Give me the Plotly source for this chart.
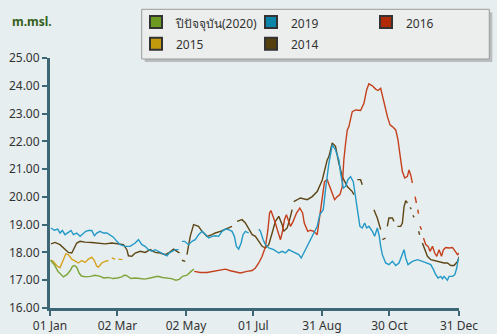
import plotly.graph_objects as go
import pandas as pd

# ---------------- data (day-of-year offsets from 01 Jan, water level m.msl.) ----------------
green_days = [0.5, 2, 4, 7, 10, 12, 15, 18, 20, 22,
              24, 26, 28, 32, 36, 40, 44, 48, 52, 56,
              60, 64, 66, 68, 72, 76, 80, 84, 88, 92,
              96, 100, 104, 108, 112, 115, 118, 122, 125, 128]
green_vals = [17.72, 17.65, 17.55, 17.32, 17.18, 17.12, 17.20, 17.35, 17.50, 17.53,
              17.45, 17.25, 17.15, 17.12, 17.14, 17.18, 17.15, 17.08, 17.10, 17.06,
              17.08, 17.12, 17.18, 17.17, 17.06, 17.08, 17.06, 17.04, 17.07, 17.10,
              17.14, 17.10, 17.08, 17.06, 17.00, 17.03, 17.14, 17.18, 17.30, 17.40]

blue_days = [0.9, 3.8, 6.9, 8.9, 11.0, 13.4, 16.3, 18.7, 20.8, 23.8,
             26.8, 29.7, 31.8, 34.2, 37.2, 39.5, 41.6, 44.6, 47.5, 50.6,
             53.5, 56.4, 59.5, 62.4, 66.9, 71.3, 75.8, 78.7, 81.8, 84.7,
             87.7, 90.7, 93.6, 98.1, 101.0, 104.1, 106.1, 108.5, 111.5, 114.4, None,
             117.4, 119.8, 123.3, 126.4, 129.3, 132.2, 135.3, 138.2, 141.2, 144.2,
             147.1, 150.1, 153.1, 156.1, 159.0, 162.0, 164.1, 165.9, 167.9, 170.1,
             171.8, 173.9, 176.8, None,
             185.8, 187.3, 189.7, 191.7, 194.7, 199.1, 203.6, 206.6, 209.6, 212.5,
             215.5, 218.5, 221.4, 223.6, 225.9, 228.9, 231.8, 234.8, 237.8, 240.1,
             243.2, 245.2, 248.2, 251.2, 254.1, 257.1, 258.6, 261.0, 263.1, 265.1,
             267.5, 269.9, 272.0, 274.0, 275.8, 277.9, 280.0, 281.8, 283.8, 286.9,
             288.9, 291.3, 293.1, 294.3, 295.8, 298.7, 301.7, 304.7, 307.7, 310.6,
             313.6, 315.1, 316.6, 318.6, 322.5, 327.0, 331.5, 335.9, 338.9, 341.3,
             343.3, 345.4, 347.8, 349.3, 350.7, 353.7, 355.2, 358.2, 360.3, 362.0,
             363.2, 364.3]
blue_vals = [18.88, 18.80, 18.84, 18.70, 18.79, 18.64, 18.72, 18.79, 18.64, 18.70,
             18.58, 18.70, 18.76, 18.79, 18.79, 18.60, 18.70, 18.76, 18.70, 18.70,
             18.64, 18.55, 18.40, 18.28, 18.22, 18.22, 18.34, 18.46, 18.28, 18.22,
             18.10, 18.04, 18.10, 18.00, 17.92, 17.88, 17.98, 18.04, 18.10, 18.10, None,
             18.40, 18.40, 18.28, 18.40, 18.46, 18.64, 18.76, 18.64, 18.52, 18.58,
             18.60, 18.58, 18.76, 18.84, 18.82, 18.76, 18.58, 18.22, 18.12, 18.34,
             18.64, 18.76, 18.70, None,
             18.84, 18.76, 18.46, 18.28, 18.16, 18.10, 17.98, 18.04, 17.98, 18.10,
             18.04, 17.98, 17.92, 17.80, 17.98, 18.22, 18.46, 18.70, 18.94, 19.36,
             19.54, 20.26, 21.21, 21.87, 21.69, 21.33, 20.86, 20.32, 20.38, 20.62,
             20.73, 20.55, 20.01, 19.54, 18.94, 18.88, 19.06, 18.88, 18.94, 18.76,
             18.58, 18.88, 18.58, 18.22, 17.92, 17.62, 17.56, 17.68, 17.53, 17.62,
             17.92, 18.10, 17.80, 17.56, 17.68, 17.74, 17.68, 17.62, 17.56, 17.38,
             17.20, 17.08, 17.14, 17.05, 17.14, 17.00, 17.14, 17.14, 17.20, 17.44,
             17.74, 17.80]

red_days = [128.4, 133.8, 139.7, 145.6, 151.6, 156.1, 160.5, 166.5, 169.4, 175.4,
            179.9, 182.8, 185.8, 188.8, 191.7, 193.9, 195.4, 196.6, 198.6, 200.6,
            202.7, 205.1, 206.6, 208.7, 210.4, 212.5, 214.0, 216.4, 219.4, 222.3,
            224.8, 226.3, 229.4, 231.8, 234.8, 237.8, 239.3, 240.8, 242.3, 244.3,
            246.7, 249.1, 251.2, 253.3, 255.7, 258.0, 260.1, 261.5, 263.1, 264.6,
            266.0, 269.0, 272.0, 276.4, 279.4, 281.8, 283.8, 286.9, 289.8, 291.9,
            294.3, 297.2, 300.3, 302.6, 304.7, 307.7, 309.7, 311.5, 313.6, 315.7,
            318.1, 319.5, 321.0, 322.5, None,
            324.9, 326.1, None, 327.3, 327.9, None, 329.3, 330.6, None,
            332.4, 334.4, 336.5, 338.2, 340.4, 342.4, 344.2, 346.3, 348.4, 350.2,
            352.2, 355.2, 358.2, 360.3, 362.7, 364.3]
red_vals = [17.32, 17.28, 17.28, 17.32, 17.38, 17.40, 17.34, 17.30, 17.26, 17.32,
            17.35, 17.44, 17.62, 17.86, 18.20, 18.80, 19.42, 19.51, 19.30, 19.06,
            18.76, 18.46, 18.70, 19.18, 19.36, 19.06, 18.94, 19.12, 19.42, 19.60,
            19.42, 19.06, 18.76, 18.80, 18.76, 18.64, 19.06, 19.54, 20.08, 20.55,
            20.62, 20.37, 20.08, 19.90, 20.01, 20.08, 20.37, 21.33, 21.94, 22.41,
            22.53, 23.07, 23.13, 23.11, 23.37, 23.85, 24.07, 24.00, 23.88, 23.83,
            23.91, 23.37, 22.89, 22.59, 22.53, 22.41, 22.05, 21.51, 20.91, 20.68,
            20.74, 20.97, 20.79, 20.50, None,
            20.01, 19.78, None, 19.54, 19.40, None, 18.94, 18.82, None,
            18.52, 18.28, 18.22, 18.04, 18.22, 17.98, 17.86, 18.10, 17.86, 18.10,
            18.18, 18.16, 18.18, 18.04, 17.92, 17.98]

gold_days = [0.5, 2.9, 6.0, 8.9, 11.9, 14.0, 16.3, 19.4, 22.9, 25.2,
             28.3, 31.2, 34.2, 37.2, 39.5, 41.6, 43.1, 46.1, 49.0, 52.0, None,
             55.0, 58.0, None, 60.9, 64.5]
gold_vals = [17.72, 17.68, 17.52, 17.45, 17.74, 17.95, 17.92, 17.76, 17.68, 17.62,
             17.71, 17.64, 17.76, 17.83, 17.71, 17.50, 17.47, 17.62, 17.68, 17.71, None,
             17.80, 17.76, None, 17.76, 17.74]

brown_days = [0.9, 4.5, 8.9, 13.4, 16.3, 19.4, 21.7, 23.8, 26.8, 31.2,
              37.2, 43.1, 49.0, 55.0, 60.9, 65.4, 68.4, 69.8, 72.9, 75.8,
              80.3, 84.7, 89.2, 93.6, 98.1, 102.5, 105.5, 110.0, 113.0, 115.3, None,
              117.4, 120.4, None,
              121.9, 124.8, 127.8, 132.2, 135.3, 139.7, 144.2, 147.1, 151.6, 157.6, 162.0, None,
              166.5, 170.9, 173.9, 176.8, 179.9, 182.8, 185.8, 188.8, 191.7, 194.7,
              197.7, 200.6, 203.6, 206.6, 208.0, 211.1, 214.0, 215.5, None,
              216.9, 222.9, 228.9, 233.4, 237.8, 242.3, 246.7, 248.2, 251.2, 254.1,
              257.1, 260.1, 264.6, 269.0, 270.5, None,
              273.5, 276.4, 277.9, None, 288.3, 291.3, 294.3, None, 295.8, 298.7, None,
              300.2, 301.6, 304.7, 306.1, None, 309.2, 312.1, 313.6, 315.1, 316.6, 318.1, None,
              320.5, 321.5, None, 323.0, 324.0, None, 328.0, 329.0, None,
              331.4, 333.5, 335.9, 338.9, 344.8, 350.7, 353.7, 356.7, 359.6, 362.7, 364.3]
brown_vals = [18.31, 18.36, 18.28, 18.10, 18.00, 17.98, 18.16, 18.34, 18.40, 18.37,
              18.36, 18.34, 18.31, 18.34, 18.30, 18.28, 18.10, 17.88, 17.86, 17.98,
              18.04, 18.00, 18.10, 18.00, 17.98, 17.92, 17.98, 18.12, 18.04, 17.98, None,
              17.72, 17.68, None,
              17.92, 18.58, 19.00, 18.94, 18.76, 18.58, 18.64, 18.70, 18.76, 18.88, 18.94, None,
              19.12, 19.18, 19.06, 18.88, 18.64, 18.58, 18.40, 18.22, 18.16, 18.28,
              18.70, 19.12, 19.30, 19.00, 18.76, 18.88, 19.30, 19.54, None,
              19.83, 19.96, 19.90, 20.01, 20.19, 20.61, 21.33, 21.45, 21.94, 21.82,
              21.21, 20.73, 20.37, 20.19, 20.08, None,
              20.62, 20.62, 20.44, None, 19.54, 19.24, 18.82, None, 18.46, 18.52, None,
              18.94, 19.24, 19.24, 19.12, None, 18.94, 18.94, 19.06, 19.65, 19.86, 19.78, None,
              19.62, 19.56, None, 19.34, 19.26, None, 18.76, 18.64, None,
              18.34, 18.10, 17.86, 17.74, 17.68, 17.62, 17.62, 17.53, 17.53, 17.68, 17.85]

series_names = ["ปีปัจจุบัน(2020)", "2019", "2016", "2015", "2014"]
line_colors = ["#7da53a", "#2299c6", "#c4401c", "#d6a21e", "#5e4614"]
legend_colors = ["#6b9a1f", "#0a84a8", "#b02a08", "#c39a0c", "#54400d"]

tick_dates = ["2019-01-01", "2019-03-02", "2019-05-02", "2019-07-01",
              "2019-08-31", "2019-10-30", "2019-12-31"]
tick_text = ["01 Jan", "02 Mar", "02 May", "01 Jul", "31 Aug", "30 Oct", "31 Dec"]
y_ticks = [16, 17, 18, 19, 20, 21, 22, 23, 24, 25]

# ---------------- layout constants (pixels) ----------------
W, H = 497, 334
ML, MR, MT, MB = 50, 38, 58, 26
PW, PH = W - ML - MR, H - MT - MB


def px_x(px):
    return (px - ML) / PW


def px_y(py):
    return (H - MB - py) / PH


start = pd.Timestamp("2019-01-01")


def to_dates(days):
    return [None if d is None else start + pd.to_timedelta(d, unit="D") for d in days]


all_days = [green_days, blue_days, red_days, gold_days, brown_days]
all_vals = [green_vals, blue_vals, red_vals, gold_vals, brown_vals]

fig = go.Figure()
order = [4, 3, 2, 1, 0]
for i in order:
    assert len(all_days[i]) == len(all_vals[i]), (i, len(all_days[i]), len(all_vals[i]))
    fig.add_trace(go.Scatter(
        x=to_dates(all_days[i]), y=all_vals[i], mode="lines",
        line=dict(color=line_colors[i], width=1.4),
        connectgaps=False, showlegend=False, hoverinfo="skip"))

for i, name in enumerate(series_names):
    fig.add_trace(go.Scatter(
        x=[None], y=[None], mode="markers",
        name='<span style="font-size:12px">' + name + '</span>',
        marker=dict(symbol="square", size=11, color=legend_colors[i],
                    line=dict(color="#333333", width=1))))

axis_col = "#3d6676"
bg = "#e7eef0"
font_family = "Noto Sans, DejaVu Sans, sans-serif"

box_l, box_t, box_r, box_b = 141.7, 9.3, 489.3, 59.0

fig.update_layout(
    width=W, height=H,
    margin=dict(l=ML, r=MR, t=MT, b=MB, autoexpand=False),
    paper_bgcolor=bg, plot_bgcolor=bg,
    font=dict(family=font_family, size=12, color="#333333"),
    showlegend=True,
    legend=dict(
        orientation="h", x=px_x(136), y=px_y(6), xanchor="left", yanchor="top",
        bgcolor="rgba(0,0,0,0)", borderwidth=0,
        entrywidth=70, font=dict(size=14.5, color="#333333"),
        itemsizing="constant"),
    xaxis=dict(
        type="date", range=["2019-01-01", "2019-12-31"],
        tickvals=tick_dates, ticktext=tick_text, automargin=False,
        showline=True, linecolor=axis_col, linewidth=3,
        ticks="outside", ticklen=5, tickwidth=2, tickcolor=axis_col,
        showgrid=False, zeroline=False,
        tickfont=dict(size=12, color="#333333")),
    yaxis=dict(
        range=[16, 25], tickvals=y_ticks, tickformat=".2f", automargin=False,
        showline=True, linecolor=axis_col, linewidth=3,
        ticks="outside", ticklen=5, tickwidth=2, tickcolor=axis_col,
        showgrid=False, zeroline=False,
        tickfont=dict(size=12, color="#333333")),
    shapes=[
        dict(type="rect", xref="paper", yref="paper", layer="above",
             x0=px_x(box_l + 3), x1=px_x(box_r + 3), y0=px_y(box_b + 3), y1=px_y(box_t + 3),
             fillcolor="#b9bdbe", line=dict(width=0)),
        dict(type="rect", xref="paper", yref="paper", layer="above",
             x0=px_x(box_l), x1=px_x(box_r), y0=px_y(box_b), y1=px_y(box_t),
             fillcolor="#eceeed", line=dict(color="#9a9a9a", width=1)),
    ],
    annotations=[dict(
        text="<b>m.msl.</b>", xref="paper", yref="paper",
        x=px_x(10), y=px_y(21), xanchor="left", yanchor="middle",
        showarrow=False, font=dict(size=12, color="#33601a", family=font_family))],
)

fig.write_html("out.html")
